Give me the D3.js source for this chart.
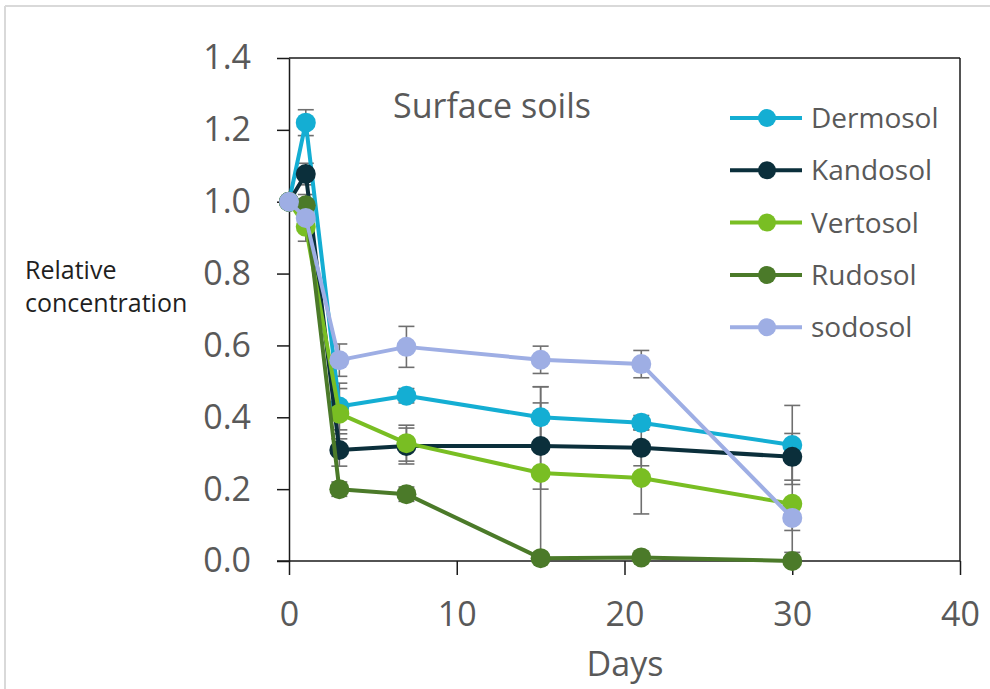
<!DOCTYPE html>
<html>
<head>
<meta charset="utf-8">
<script src="https://cdn.jsdelivr.net/npm/d3@7"></script>
<style>
  html, body { margin: 0; padding: 0; background: #fff; }
  svg { display: block; font-family: "Open Sans", "Noto Sans", sans-serif; }
</style>
</head>
<body>
<svg id="chart" width="990" height="689"></svg>
<script>
// Sampling days
const days = [0, 1, 3, 7, 15, 21, 30];

// Relative concentration per soil type
const dermosol = [1.00, 1.22, 0.43, 0.46, 0.40, 0.385, 0.323];
const kandosol = [1.00, 1.077, 0.309, 0.32, 0.32, 0.315, 0.29];
const vertosol = [1.00, 0.93, 0.41, 0.328, 0.245, 0.231, 0.159];
const rudosol  = [1.00, 0.99, 0.20, 0.186, 0.008, 0.01, 0.0];
const sodosol  = [1.00, 0.955, 0.559, 0.596, 0.56, 0.548, 0.12];

// Error bar half-widths (same order as days)
const dermosolErr = [0, 0.036, 0.065, 0.02, 0.085, 0.02, 0.11];
const kandosolErr = [0, 0.03, 0.045, 0.05, 0.12, 0.05, 0.065];
const vertosolErr = [0, 0.04, 0.07, 0.05, 0.24, 0.10, 0.135];
const rudosolErr  = [0, 0.03, 0.02, 0.02, 0.01, 0.01, 0.0];
const sodosolErr  = [0, 0.03, 0.045, 0.057, 0.038, 0.038, 0.035];

const seriesNames = ["Dermosol", "Kandosol", "Vertosol", "Rudosol", "sodosol"];
const seriesColors = ["#14AED3", "#0B2F3B", "#79BE23", "#4B7A29", "#9EAEE4"];

const xTicks = [0, 10, 20, 30, 40];
const yTicks = [0, 0.2, 0.4, 0.6, 0.8, 1.0, 1.2, 1.4];
const yTitleLines = ["Relative", "concentration"];

const series = [
  { name: seriesNames[0], color: seriesColors[0], values: dermosol, err: dermosolErr },
  { name: seriesNames[1], color: seriesColors[1], values: kandosol, err: kandosolErr },
  { name: seriesNames[2], color: seriesColors[2], values: vertosol, err: vertosolErr },
  { name: seriesNames[3], color: seriesColors[3], values: rudosol,  err: rudosolErr },
  { name: seriesNames[4], color: seriesColors[4], values: sodosol,  err: sodosolErr }
];

const svg = d3.select("#chart");
const fontStack = "'Open Sans', 'Noto Sans', sans-serif";

// Outer frame (top and left edges)
svg.append("line").attr("x1", 5).attr("x2", 990).attr("y1", 6).attr("y2", 6)
  .attr("stroke", "#d9d9d9").attr("stroke-width", 2);
svg.append("line").attr("x1", 5).attr("x2", 5).attr("y1", 6).attr("y2", 689)
  .attr("stroke", "#d9d9d9").attr("stroke-width", 2);

const x = d3.scaleLinear().domain([0, 40]).range([289, 960]);
const y = d3.scaleLinear().domain([0, 1.4]).range([561, 58]);

const axisColor = "#1a1a1a";
const labelColor = "#595959";

// Plot box: top and right edges
svg.append("line").attr("x1", x(0)).attr("x2", x(40)).attr("y1", y(1.4)).attr("y2", y(1.4))
  .attr("stroke", axisColor).attr("stroke-width", 1.5);
svg.append("line").attr("x1", x(40)).attr("x2", x(40)).attr("y1", y(1.4)).attr("y2", y(0))
  .attr("stroke", axisColor).attr("stroke-width", 1.5);

// Y axis
const yAxis = svg.append("g")
  .attr("transform", `translate(${x(0)},0)`)
  .call(d3.axisLeft(y).tickValues(yTicks).tickFormat(d3.format(".1f"))
    .tickSize(12).tickPadding(26).tickSizeOuter(0));
yAxis.select(".domain").attr("stroke", axisColor).attr("stroke-width", 1.5);
yAxis.selectAll(".tick line").attr("stroke", axisColor).attr("stroke-width", 1.5);
yAxis.selectAll(".tick text").attr("fill", labelColor)
  .style("font-size", "34px").style("font-family", fontStack);

// X axis
const xAxis = svg.append("g")
  .attr("transform", `translate(0,${y(0)})`)
  .call(d3.axisBottom(x).tickValues(xTicks).tickFormat(d3.format("d"))
    .tickSize(14).tickPadding(27).tickSizeOuter(0));
xAxis.select(".domain").attr("stroke", axisColor).attr("stroke-width", 1.5)
  .attr("d", `M${x(0) - 12},0H${x(40)}`);
xAxis.selectAll(".tick line").attr("stroke", axisColor).attr("stroke-width", 1.5);
xAxis.selectAll(".tick text").attr("fill", labelColor)
  .style("font-size", "34px").style("font-family", fontStack);

// Error bars
const errG = svg.append("g");
series.forEach(s => {
  days.forEach((d, i) => {
    const e = s.err[i];
    if (!e) return;
    const cx = x(d), y1 = y(s.values[i] + e), y2 = y(Math.max(0, s.values[i] - e));
    const g = errG.append("g").attr("stroke", "#6f6f6f").attr("stroke-width", 1.6);
    g.append("line").attr("x1", cx).attr("x2", cx).attr("y1", y1).attr("y2", y2);
    g.append("line").attr("x1", cx - 8).attr("x2", cx + 8).attr("y1", y1).attr("y2", y1);
    g.append("line").attr("x1", cx - 8).attr("x2", cx + 8).attr("y1", y2).attr("y2", y2);
  });
});

// Series lines and markers
const line = d3.line().x((d, i) => x(days[i])).y(d => y(d));
series.forEach(s => {
  const g = svg.append("g");
  g.append("path").datum(s.values).attr("d", line)
    .attr("fill", "none").attr("stroke", s.color).attr("stroke-width", 4)
    .attr("stroke-linejoin", "round");
  g.selectAll("circle").data(s.values).join("circle")
    .attr("cx", (d, i) => x(days[i])).attr("cy", d => y(d))
    .attr("r", 10).attr("fill", s.color);
});

// Title inside plot
svg.append("text").attr("x", 393).attr("y", 118)
  .attr("fill", labelColor).style("font-size", "34px")
  .text("Surface soils");

// Legend
const legend = svg.append("g");
series.forEach((s, i) => {
  const ly = 118 + i * 52.3;
  legend.append("line").attr("x1", 730).attr("x2", 802).attr("y1", ly).attr("y2", ly)
    .attr("stroke", s.color).attr("stroke-width", 4);
  legend.append("circle").attr("cx", 767).attr("cy", ly).attr("r", 9).attr("fill", s.color);
  legend.append("text").attr("x", 811).attr("y", ly).attr("dy", "0.36em")
    .attr("fill", labelColor).style("font-size", "28px").text(s.name);
});

// Axis titles (y title on two separate lines)
yTitleLines.forEach((t, i) => {
  svg.append("text").attr("x", 25).attr("y", 279 + i * 33)
    .attr("fill", "#1f1f1f").style("font-size", "25px").text(t);
});

svg.append("text").attr("x", 625).attr("y", 676).attr("text-anchor", "middle")
  .attr("fill", labelColor).style("font-size", "34px").text("Days");
</script>
</body>
</html>
